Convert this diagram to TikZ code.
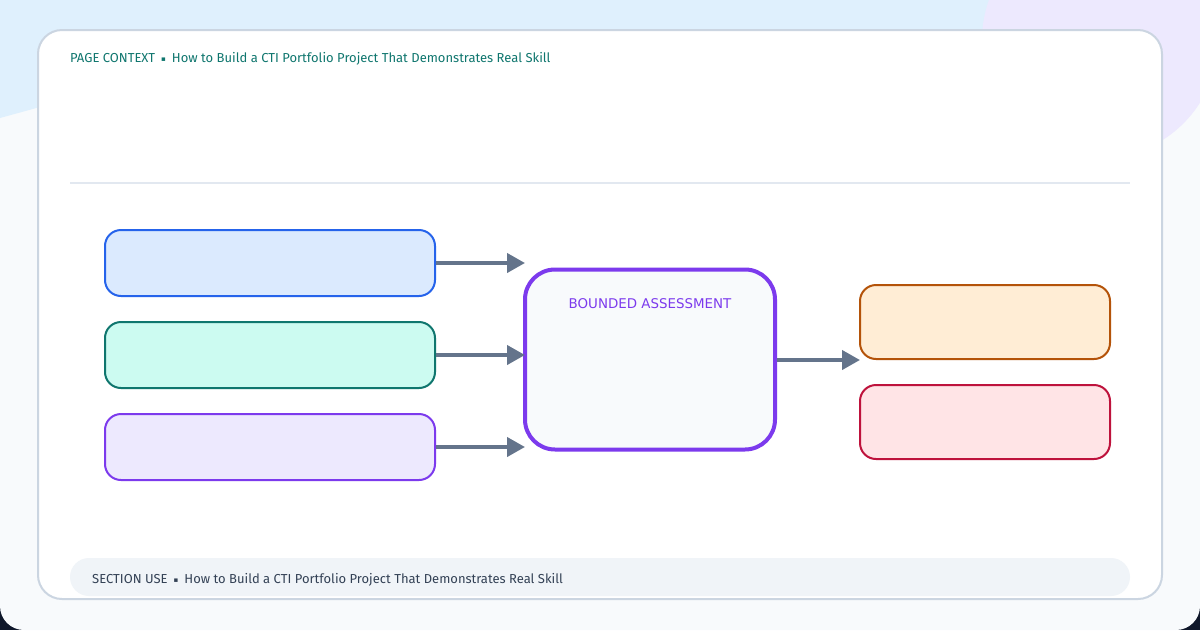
\documentclass[tikz,border=0pt]{standalone}
\usepackage{fontspec}
\setmainfont{Fira Sans}
\newfontfamily\dvsans{DejaVu Sans}
\usetikzlibrary{arrows.meta}
\definecolor{pagebg}{HTML}{F8FAFC}
\definecolor{darkbg}{HTML}{0F172A}
\definecolor{blobblue}{HTML}{DFF0FD}
\definecolor{blobviolet}{HTML}{EDE9FE}
\definecolor{cardline}{HTML}{CBD5E1}
\definecolor{sepline}{HTML}{E2E8F0}
\definecolor{tealtext}{HTML}{0F766E}
\definecolor{slatetext}{HTML}{334155}
\definecolor{arrowc}{HTML}{64748B}
\definecolor{barfill}{HTML}{F0F4F8}
\definecolor{bluefill}{HTML}{DBEAFE}
\definecolor{bluedraw}{HTML}{2563EB}
\definecolor{tealfill}{HTML}{CCFBF1}
\definecolor{tealdraw}{HTML}{0F766E}
\definecolor{violetfill}{HTML}{EDE9FE}
\definecolor{violetdraw}{HTML}{7C3AED}
\definecolor{orangefill}{HTML}{FFEDD5}
\definecolor{orangedraw}{HTML}{B45309}
\definecolor{rosefill}{HTML}{FFE4E6}
\definecolor{rosedraw}{HTML}{BE123C}
\definecolor{centerfill}{HTML}{F8FAFC}
\newcommand{\sepmark}{\hspace{6pt}\raisebox{0.3pt}{\dvsans\fontsize{7pt}{8pt}\selectfont ▪}\hspace{6pt}}
\tikzset{
  inbox/.style={rectangle, rounded corners=16pt, line width=2pt, minimum width=330pt, minimum height=66pt, inner sep=0pt},
  outbox/.style={rectangle, rounded corners=16pt, line width=2pt, minimum width=250pt, minimum height=74pt, inner sep=0pt},
  hubbox/.style={rectangle, rounded corners=30pt, line width=4pt, draw=violetdraw, fill=centerfill, minimum width=250pt, minimum height=180pt, inner sep=0pt},
  flow/.style={draw=arrowc, line width=4pt, -{Triangle[length=18pt,width=19pt]}},
  smalltext/.style={inner sep=0pt, font=\fontsize{13pt}{15pt}\selectfont}
}
\begin{document}
\begin{tikzpicture}[x=1pt,y=-1pt]
\useasboundingbox (0,0) rectangle (1200,630);
% page background
\fill[darkbg] (0,0) rectangle (1200,630);
\fill[pagebg, rounded corners=24pt] (0,0) rectangle (1200,630);
\fill[blobblue] (0,0) -- (1000,0) -- (1000,40) -- (40,107) -- (0,118) -- cycle;
\fill[blobviolet] (1100,40) circle[radius=118pt];
% card
\draw[cardline, line width=2pt, fill=white, rounded corners=24pt] (38,30) rectangle (1162,599);
% header
\node[smalltext, anchor=base west, text=tealtext] (hdr) at (70,62)
  {PAGE CONTEXT\sepmark How to Build a CTI Portfolio Project That Demonstrates Real Skill};
\draw[sepline, line width=2pt] (70,183) -- (1130,183);
% input boxes
\node[inbox, draw=bluedraw, fill=bluefill] (b1) at (270,263) {};
\node[inbox, draw=tealdraw, fill=tealfill] (b2) at (270,355) {};
\node[inbox, draw=violetdraw, fill=violetfill] (b3) at (270,447) {};
% hub
\node[hubbox] (hub) at (650,359.5) {};
\node[inner sep=0pt, anchor=base, text=violetdraw, font=\dvsans\fontsize{13.4pt}{15pt}\selectfont] (hubl) at (650,308) {BOUNDED ASSESSMENT};
% outputs
\node[outbox, draw=orangedraw, fill=orangefill] (o1) at (985,322) {};
\node[outbox, draw=rosedraw, fill=rosefill] (o2) at (985,422) {};
% arrows
\coordinate (t1) at (525,263);
\coordinate (t2) at (525,355);
\coordinate (t3) at (525,447);
\coordinate (t4) at (860,360);
\draw[flow] (b1.east) -- (t1);
\draw[flow] (b2.east) -- (t2);
\draw[flow] (b3.east) -- (t3);
\draw[flow] (hub.east |- t4) -- (t4);
% footer bar
\node[fill=barfill, rounded corners=19pt, minimum width=1060pt, minimum height=38pt, inner sep=0pt] (bar) at (600,577) {};
\node[smalltext, anchor=base west, text=slatetext] (ftr) at (92,583)
  {SECTION USE\sepmark How to Build a CTI Portfolio Project That Demonstrates Real Skill};
\end{tikzpicture}
\end{document}
